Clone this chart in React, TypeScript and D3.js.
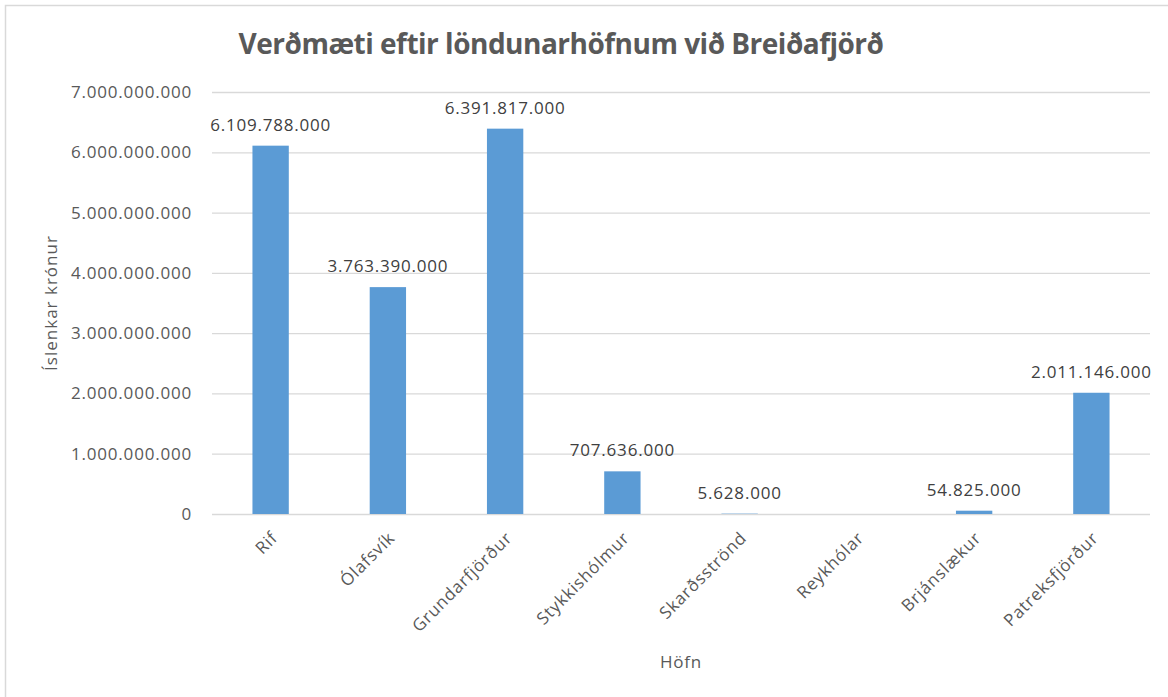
import * as d3 from "d3";
import { useEffect, useRef } from "react";

const categories = ["Rif", "Ólafsvík", "Grundarfjörður", "Stykkishólmur", "Skarðsströnd", "Reykhólar", "Brjánslækur", "Patreksfjörður"];
const values: (number | null)[] = [6109788000, 3763390000, 6391817000, 707636000, 5628000, null, 54825000, 2011146000];
const yTicks = [0, 1000000000, 2000000000, 3000000000, 4000000000, 5000000000, 6000000000, 7000000000];

const title = "Verðmæti eftir löndunarhöfnum við Breiðafjörð";
const xTitle = "Höfn";
const yTitle = "Íslenkar krónur";

const chartWidth = 1168;
const chartHeight = 697;

const App = () => {
    const ref = useRef<SVGSVGElement>(null);

    useEffect(() => {
        document.body.style.margin = "0";
        const margin = { top: 92, right: 18, bottom: 183, left: 212 };
        const width = chartWidth - margin.left - margin.right;
        const height = chartHeight - margin.top - margin.bottom;
        const font = "'Open Sans', sans-serif";
        const textColor = "#595959";

        const isl = d3.formatLocale({ decimal: ",", thousands: ".", grouping: [3], currency: ["", " kr"] });
        const fmt = isl.format(",d");

        const xScale = d3.scaleBand().domain(categories).range([0, width]).paddingInner(0.69).paddingOuter(0.345);
        const yScale = d3.scaleLinear().domain([0, 7000000000]).range([height, 0]);

        const svg = d3.select(ref.current);
        svg.selectAll("*").remove();

        // chart border
        svg.append("rect")
            .attr("x", 5.5).attr("y", 5.5)
            .attr("width", 1200).attr("height", 720)
            .attr("fill", "white")
            .attr("stroke", "#d9d9d9")
            .attr("stroke-width", 1.5);

        const g = svg.append("g").attr("transform", "translate(" + margin.left + "," + margin.top + ")");

        // gridlines
        const grid = g.append("g")
            .call(d3.axisLeft(yScale).tickValues(yTicks).tickSize(-width).tickFormat(() => ""));
        grid.select(".domain").remove();
        grid.selectAll("line").attr("stroke", "#d9d9d9").attr("stroke-width", 1.3);

        // y axis labels
        const yAxis = g.append("g")
            .call(d3.axisLeft(yScale).tickValues(yTicks).tickSize(0).tickPadding(20).tickFormat((d) => fmt(d as number)));
        yAxis.select(".domain").remove();
        yAxis.selectAll("text")
            .attr("fill", textColor)
            .attr("font-family", font)
            .attr("font-size", "17px")
            .attr("letter-spacing", "0.8px");

        // bars
        const data = categories.map((c, i) => ({ c, v: values[i] })).filter((d) => d.v !== null) as { c: string; v: number }[];
        g.selectAll(".bar")
            .data(data)
            .enter()
            .append("rect")
            .attr("class", "bar")
            .attr("x", (d) => xScale(d.c)!)
            .attr("width", xScale.bandwidth())
            .attr("y", (d) => yScale(d.v))
            .attr("height", (d) => height - yScale(d.v))
            .attr("fill", "#5b9bd5");

        // value labels
        g.selectAll(".lbl")
            .data(data)
            .enter()
            .append("text")
            .attr("class", "lbl")
            .attr("x", (d) => xScale(d.c)! + xScale.bandwidth() / 2)
            .attr("y", (d) => yScale(d.v) - 15)
            .attr("text-anchor", "middle")
            .attr("fill", "#404040")
            .attr("font-family", font)
            .attr("font-size", "17px")
            .attr("letter-spacing", "0.8px")
            .text((d) => fmt(d.v));

        // x axis
        const xAxis = g.append("g")
            .attr("transform", "translate(0," + height + ")")
            .call(d3.axisBottom(xScale).tickSize(0).tickPadding(0));
        xAxis.select(".domain").remove();
        xAxis.selectAll("text")
            .attr("fill", textColor)
            .attr("font-family", font)
            .attr("font-size", "17px")
            .attr("letter-spacing", "0.8px")
            .attr("text-anchor", "end")
            .attr("dy", "0")
            .attr("transform", "translate(8,25) rotate(-45)");

        // title
        svg.append("text")
            .attr("x", 561)
            .attr("y", 54)
            .attr("text-anchor", "middle")
            .attr("fill", textColor)
            .attr("font-family", font)
            .attr("font-weight", "bold")
            .attr("font-size", "28px")
            .attr("letter-spacing", "-0.5px")
            .text(title);

        // x title
        svg.append("text")
            .attr("x", margin.left + width / 2)
            .attr("y", 668)
            .attr("text-anchor", "middle")
            .attr("fill", textColor)
            .attr("font-family", font)
            .attr("font-size", "17px")
            .attr("letter-spacing", "0.8px")
            .text(xTitle);

        // y title
        svg.append("text")
            .attr("text-anchor", "middle")
            .attr("transform", "translate(57," + (margin.top + height / 2) + ")rotate(-90)")
            .attr("fill", textColor)
            .attr("font-family", font)
            .attr("font-size", "17px")
            .attr("letter-spacing", "1px")
            .text(yTitle);
    }, []);

    return (
        <svg ref={ref} width={chartWidth} height={chartHeight} style={{ display: "block", background: "white" }} />
    );
};

export default App;
